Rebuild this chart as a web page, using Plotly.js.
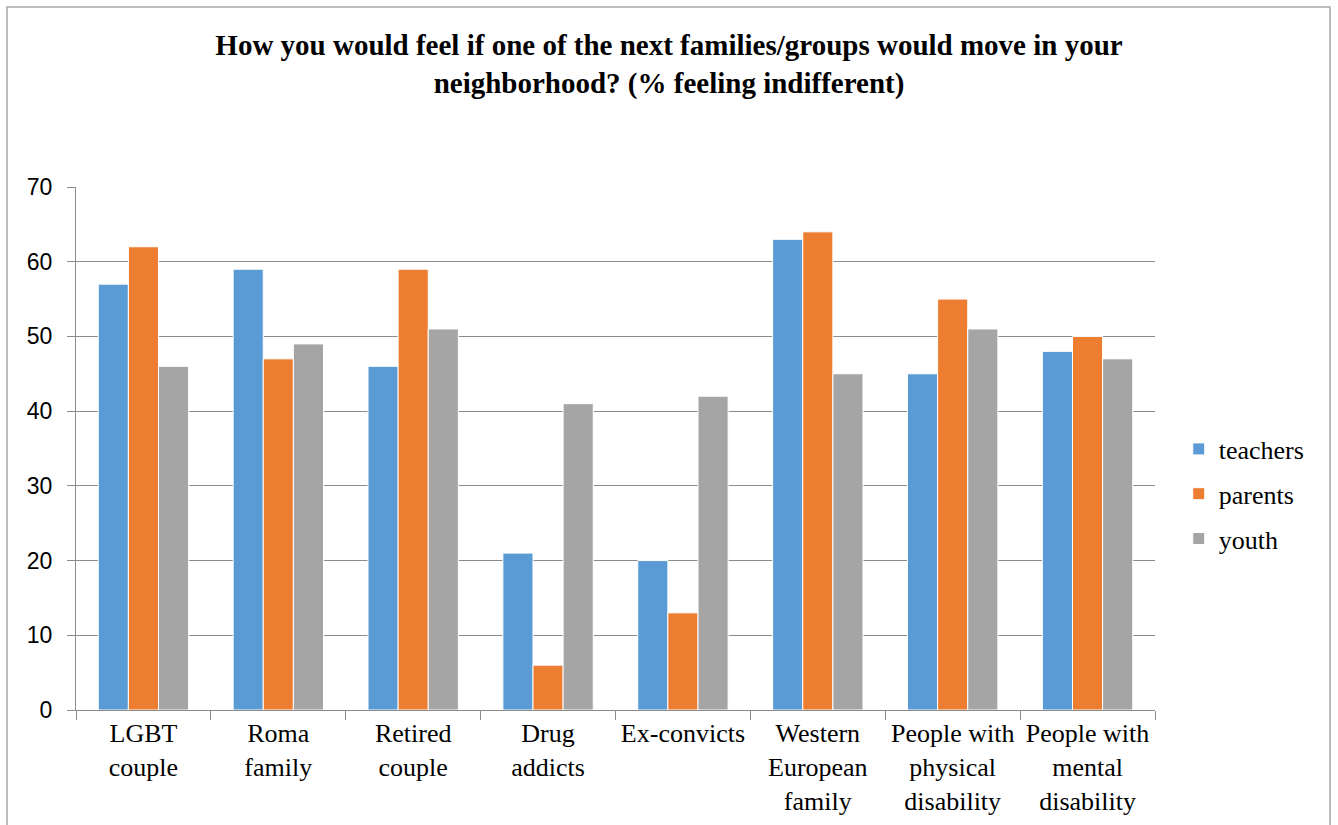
<!DOCTYPE html>
<html>
<head>
<meta charset="utf-8">
<script src="https://cdn.plot.ly/plotly-3.0.1.min.js"></script>
<style>html,body{margin:0;padding:0;background:#fff;}#chart{width:1338px;height:825px;}</style>
</head>
<body>
<div id="chart"></div>
<script>
const categories = ["LGBT<br>couple", "Roma<br>family", "Retired<br>couple", "Drug<br>addicts", "Ex-convicts", "Western<br>European<br>family", "People with<br>physical<br>disability", "People with<br>mental<br>disability"];
const teachers = [57, 59, 46, 21, 20, 63, 45, 48];
const parents = [62, 47, 59, 6, 13, 64, 55, 50];
const youth = [46, 49, 51, 41, 42, 45, 51, 47];
const seriesNames = ["teachers", "parents", "youth"];
const seriesColors = ["#5B9BD5", "#ED7D31", "#A5A5A5"];
const yTicks = [0, 10, 20, 30, 40, 50, 60, 70];

const allValues = [teachers, parents, youth];
const traces = allValues.map((vals, i) => ({
  type: "bar",
  name: seriesNames[i],
  x: categories,
  y: vals,
  legendgroup: "g" + i,
  marker: {color: seriesColors[i], line: {color: "#ffffff", width: 1}},
  hoverinfo: "x+y+name"
}));

const layout = {
  width: 1338,
  height: 825,
  paper_bgcolor: "#ffffff",
  plot_bgcolor: "#ffffff",
  margin: {l: 76, r: 183, t: 187, b: 115},
  barmode: "group",
  bargap: 0.33,
  bargroupgap: 0,
  title: {
    text: "How you would feel if one of the next families/groups would move in your<br>neighborhood? (% feeling indifferent)",
    font: {family: "Liberation Serif", size: 29, color: "#000000", weight: "bold"},
    x: 0.5, xref: "container", xanchor: "center",
    y: 1 - 55/825, yref: "container", yanchor: "top"
  },
  xaxis: {
    type: "category",
    tickson: "boundaries",
    ticks: "outside",
    ticklen: 9,
    tickcolor: "#8c8c8c",
    showline: true,
    linecolor: "#8c8c8c",
    linewidth: 1,
    showgrid: false,
    tickfont: {family: "Liberation Serif", size: 26, color: "#000000"},
    fixedrange: true
  },
  yaxis: {
    range: [0, 70],
    tickvals: yTicks,
    ticktext: yTicks.map(String),
    ticks: "outside",
    ticklen: 8,
    tickcolor: "#8c8c8c",
    showline: true,
    linecolor: "#8c8c8c",
    showgrid: true,
    gridcolor: "#8c8c8c",
    gridwidth: 1,
    zeroline: false,
    ticklabelstandoff: 10,
    tickfont: {family: "Liberation Sans", size: 23, color: "#000000"},
    fixedrange: true
  },
  legend: {
    x: 1.022, xref: "paper", xanchor: "left",
    y: 0.413, yanchor: "middle",
    font: {family: "Liberation Serif", size: 26, color: "#000000"},
    traceorder: "grouped",
    tracegroupgap: 8,
    itemwidth: 30,
    bgcolor: "rgba(0,0,0,0)"
  },
  shapes: [{
    type: "rect", xref: "paper", yref: "paper",
    x0: -69/1079, x1: 1254/1079, y0: -0.3, y1: (825-7-115)/523,
    line: {color: "#a6a6a6", width: 1.5}, fillcolor: "rgba(0,0,0,0)", layer: "below"
  }]
};

Plotly.newPlot("chart", traces, layout, {displayModeBar: false});
</script>
</body>
</html>
